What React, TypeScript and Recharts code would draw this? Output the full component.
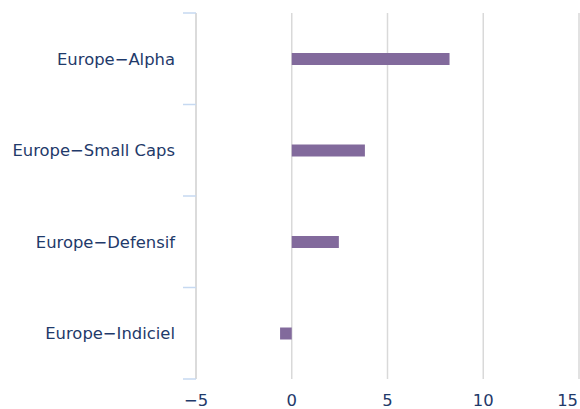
import React from "react";
import { BarChart, Bar, XAxis, YAxis, CartesianGrid } from "recharts";

const categories = ["Europe-Alpha", "Europe-Small Caps", "Europe-Defensif", "Europe-Indiciel"];
const values = [8.24, 3.82, 2.46, -0.61];
const xTicks = [-5, 0, 5, 10, 15];

const data = categories.map((name, i) => ({ name, value: values[i] }));

const TEXT = "#1f3a6a";
const FONT = "'DejaVu Sans', Verdana, sans-serif";
const FS = 16.4;
const PLOT_TOP = 13;
const PLOT_BOTTOM = 379;
const BAND = (PLOT_BOTTOM - PLOT_TOP) / categories.length;

const pretty = (s: string) => s.replace(/-/g, "\u2212");

const YTick = (props: any) => {
  const { x, y, payload } = props;
  const lineX1 = x + 8;
  const lineX2 = x + 21;
  const isLast = payload.value === categories[categories.length - 1];
  return (
    <g>
      <line x1={lineX1} x2={lineX2} y1={y - BAND / 2} y2={y - BAND / 2} stroke="#c6d9f1" strokeWidth={1.5} />
      {isLast && (
        <line x1={lineX1} x2={lineX2} y1={y + BAND / 2} y2={y + BAND / 2} stroke="#c6d9f1" strokeWidth={1.5} />
      )}
      <text x={x} y={y} dy="0.355em" textAnchor="end" fill={TEXT} fontSize={FS} fontFamily={FONT}>
        {pretty(String(payload.value))}
      </text>
    </g>
  );
};

const XTick = (props: any) => {
  const { x, y, payload } = props;
  const isLast = Number(payload.value) === xTicks[xTicks.length - 1];
  return (
    <text
      x={isLast ? x - 1 : x}
      y={y}
      dy="0.71em"
      textAnchor={isLast ? "end" : "middle"}
      fill={TEXT}
      fontSize={FS}
      fontFamily={FONT}
    >
      {pretty(String(payload.value))}
    </text>
  );
};

export default function App() {
  return (
    <div style={{ position: "absolute", left: 0, top: 0, width: 580, height: 409, background: "#fff" }}>
      <BarChart
        width={580}
        height={409}
        data={data}
        layout="vertical"
        margin={{ top: PLOT_TOP, right: 1, bottom: 0, left: 0 }}
      >
        <CartesianGrid horizontal={false} vertical={true} stroke="#d9d9d9" strokeWidth={1.5} />
        <XAxis
          type="number"
          domain={[-5, 15]}
          ticks={xTicks}
          height={30}
          axisLine={false}
          tickLine={false}
          tickSize={0}
          tickMargin={15}
          tick={<XTick />}
          interval={0}
        />
        <YAxis
          type="category"
          dataKey="name"
          width={196}
          axisLine={{ stroke: "#d9d9d9", strokeWidth: 1.5 }}
          tickLine={false}
          tickSize={0}
          tickMargin={21}
          tick={<YTick />}
          interval={0}
        />
        <Bar dataKey="value" fill="#826a9c" barSize={12} isAnimationActive={false} />
      </BarChart>
    </div>
  );
}
